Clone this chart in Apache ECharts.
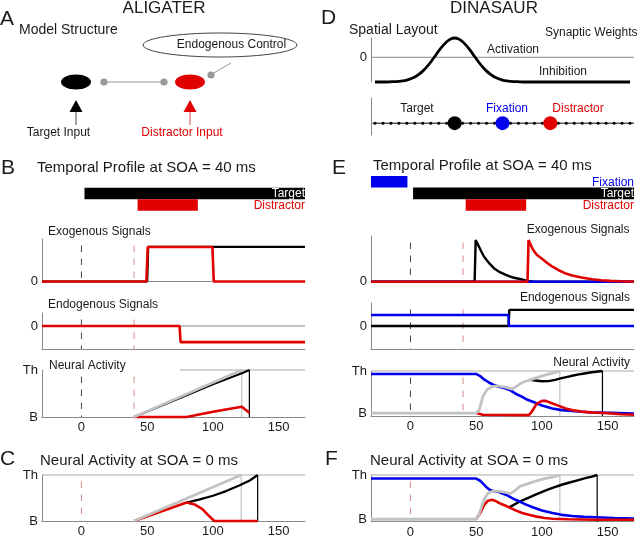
<!DOCTYPE html>
<html><head><meta charset="utf-8">
<script src="https://cdn.jsdelivr.net/npm/echarts@6/dist/echarts.min.js"></script>
<style>html,body{margin:0;padding:0;background:#fff}#c{width:640px;height:538px}</style>
</head><body><div id="c"></div>
<script>
// ================= DATA =================
const timeTicks = [0, 50, 100, 150];
const timeMin = -30, timeMax = 170;

// ---- Panel B (ALIGATER, SOA = 40 ms) ----
const profB_target = [2.3, 170];
const profB_distractor = [42.7, 88.5];
const exoB_target = [[-30,0],[50,0],[50.8,1],[170,1]];
const exoB_distractor = [[-30,0],[49.4,0],[50.4,1],[99.6,1],[100.6,0],[170,0]];
const endoB_distractor = [[-30,0],[74.6,0],[75.4,-0.7],[170,-0.7]];
const neuB_gray = [[40,0],[121.9,1]];
const neuB_black = [[40,0],[80,0.46],[100,0.695],[121.9,0.93],[127.7,1]];
const neuB_red = [[40,0],[80,0],[100,0.11],[121.9,0.22],[127.7,0.09]];
const neuB_crossGray = 121.9, neuB_crossBlack = 127.7;
const neuB_thStart = 75;
const onsetsB = [0, 40];

// ---- Panel C (ALIGATER, SOA = 0 ms) ----
const neuC_gray = [[40,0],[121.5,1]];
const neuC_black = [[80,0.40],[90,0.47],[100,0.55],[110,0.65],[120,0.77],[128,0.88],[134,1]];
const neuC_red = [[40,0],[80,0.40],[86,0.36],[92,0.26],[96,0.14],[101,0],[134,0]];
const neuC_crossGray = 121.5, neuC_crossBlack = 134;
const onsetC = 0;

// ---- Panel D (DINASAUR spatial layout) ----
const spatialPos = [0,1,2,3,3.5,4,4.5,5,5.5,6,6.5,7,7.5,8,8.5,9,9.5,10,10.5,11,11.5,12,12.5,13,13.5,14,14.5,15,15.5,16,16.5,17,18,19,20,21,22,23,24,25,26,27,28,29,30,31,32];
const spatialAct = [-1,-1,-0.99,-0.975,-0.955,-0.92,-0.87,-0.8,-0.69,-0.56,-0.39,-0.19,0.03,0.26,0.46,0.63,0.74,0.78,0.74,0.63,0.46,0.26,0.03,-0.19,-0.39,-0.56,-0.69,-0.8,-0.87,-0.92,-0.955,-0.975,-0.99,-1,-1,-1,-1,-1,-1,-1,-1,-1,-1,-1,-1,-1,-1];
const layoutDots = [0,1,2,3,4,5,6,7,8,9,10,11,12,13,14,15,16,17,18,19,20,21,22,23,24,25,26,27,28,29,30,31,32];
const layoutTarget = 10, layoutFixation = 16, layoutDistractor = 22;
const layoutLevel = 0.32;

// ---- Panel E (DINASAUR, SOA = 40 ms) ----
const profE_fixation = [-30, -2.3];
const profE_target = [2, 170];
const profE_distractor = [42, 88];
const exoE_blue = [[-30,0],[170,0]];
const exoE_black = [[-30,0],[48.8,0],[49.6,1],[52,0.85],[54,0.72],[56,0.6],[60,0.44],[64,0.31],[68,0.23],[73,0.16],[78,0.1],[84,0.06],[89,0.02],[95,0],[170,0]];
const exoE_red = [[-30,0],[89,0],[89.8,1],[93,0.78],[96,0.65],[100,0.55],[104,0.45],[108,0.36],[113,0.27],[118,0.2],[123,0.15],[130,0.1],[138,0.06],[145,0.035],[152,0.02],[160,0.01],[170,0]];
const endoE_blue = [[-30,0.48],[74.5,0.48],[74.9,0],[170,0]];
const endoE_black = [[-30,0],[74.6,0],[75.2,0.7],[170,0.7]];
const neuE_blue = [[-30,0.93],[50,0.93],[53,0.88],[56,0.8],[60,0.72],[64,0.66],[68,0.62],[72,0.59],[76,0.54],[80,0.46],[84,0.4],[88,0.33],[93,0.27],[100,0.18],[108,0.11],[115,0.07],[123,0.05],[135,0.02],[146,0.01],[170,-0.01]];
const neuE_gray = [[-30,0],[50,0],[52,0.06],[53,0.15],[55,0.39],[58,0.55],[62,0.63],[66,0.645],[70,0.63],[73,0.61],[77,0.57],[80,0.62],[83,0.69],[87,0.75],[91,0.79],[95,0.83],[100,0.88],[104,0.92],[108,0.95],[113.6,1]];
const neuE_black = [[91,0.79],[95,0.775],[100,0.755],[105,0.76],[110,0.79],[115,0.83],[122,0.88],[130,0.93],[138,0.97],[146,1]];
const neuE_red = [[50,0],[55,-0.04],[90,-0.05],[92,0.02],[96,0.22],[100,0.29],[103,0.29],[107,0.24],[113,0.17],[118,0.11],[123,0.07],[130,0.035],[140,0.01],[148,0],[160,-0.03],[170,-0.04]];
const neuE_crossGray = 113.6, neuE_crossBlack = 146;
const onsetsE = [0, 40];

// ---- Panel F (DINASAUR, SOA = 0 ms) ----
const neuF_blue = [[-30,0.92],[50,0.92],[53,0.87],[55,0.81],[58,0.72],[60,0.67],[63,0.64],[67,0.62],[70,0.58],[73,0.55],[76,0.5],[80,0.44],[83,0.4],[88,0.33],[93,0.27],[100,0.2],[108,0.14],[115,0.1],[123,0.075],[132,0.055],[141,0.045],[155,0.03],[170,0.015]];
const neuF_gray = [[-30,0],[50,0],[52,0.1],[55,0.36],[57,0.5],[59,0.59],[63,0.64],[68,0.63],[72,0.61],[76,0.58],[80,0.66],[83,0.74],[90,0.81],[96,0.87],[102,0.92],[108,0.95],[113.6,1]];
const neuF_black = [[75,0.27],[79,0.33],[83,0.4],[90,0.49],[96,0.57],[102,0.64],[108,0.71],[115,0.78],[121,0.83],[127,0.88],[133,0.93],[138,0.965],[142,1]];
const neuF_red = [[50,0],[53,0.14],[56,0.32],[59,0.42],[62,0.44],[65,0.41],[68,0.36],[72,0.31],[75,0.27],[80,0.2],[85,0.14],[90,0.1],[96,0.06],[102,0.03],[108,0.01],[120,0],[140,-0.01],[170,-0.01]];
const neuF_crossGray = 113.6, neuF_crossBlack = 142;
const onsetF = 0;

// ================= STYLE / LAYOUT =================
const FONT = "'Liberation Sans', Arial, Helvetica, sans-serif";
const RED = '#e00000', BLUE = '#0000ee', BLACK = '#000', GRAYC = '#c2c2c2', AXIS = '#8a8a8a', TXT = '#1a1a1a';
const DASH_K = '#444', DASH_R = '#d88a8a';

const grids = [
  {left:42,  top:187.7, width:263, height:23},    //0 bars B
  {left:42,  top:239,   width:263, height:42.5},  //1 exo B
  {left:42,  top:313,   width:263, height:36},    //2 endo B
  {left:42,  top:370,   width:263, height:47},    //3 neural B
  {left:42,  top:475,   width:263, height:46},    //4 neural C
  {left:371, top:38,    width:263, height:44},    //5 spatial D
  {left:371, top:98,    width:263, height:37},    //6 layout D
  {left:371, top:176,   width:263, height:34.7},  //7 bars E
  {left:371, top:236,   width:263, height:45.7},  //8 exo E
  {left:371, top:303,   width:263, height:46},    //9 endo E
  {left:371, top:371,   width:263, height:45},    //10 neural E
  {left:371, top:475,   width:263, height:46.7}   //11 neural F
].map(g => Object.assign({containLabel:false, outerBoundsMode:'none'}, g));

const thLabels = {values:[0,1], fmt: v => (v > 0.5 ? 'Th' : 'B')};
const zeroLabel = {values:[0], fmt: () => '0'};
// [ymin, ymax, showLeft, showBottom, yLabels, xLabels, xmin, xmax]
const axSpec = [
  [0, 2, false, false, null, false],
  [0, 1.23, true, true, zeroLabel, false],
  [-1, 0.565, true, true, zeroLabel, false],
  [0, 1, true, true, thLabels, true],
  [0, 1, true, true, thLabels, true],
  [-1, 0.78, true, false, zeroLabel, false, -0.5, 32.5],
  [0, 1, true, false, null, false, -0.5, 32.5],
  [0, 3, false, false, null, false],
  [0, 1.1, true, true, zeroLabel, false],
  [-1, 1, true, true, zeroLabel, false],
  [-0.07, 1, true, true, thLabels, true],
  [-0.055, 1, true, true, thLabels, true]
];
const xAxis = [], yAxis = [];
axSpec.forEach((s, i) => {
  xAxis.push({type:'value', gridIndex:i, min: s[6] !== undefined ? s[6] : timeMin, max: s[7] !== undefined ? s[7] : timeMax,
    axisLine:{show:s[3], onZero:false, lineStyle:{color:AXIS, width:1}}, axisTick:{show:false}, splitLine:{show:false},
    axisLabel: s[5] ? {show:true, customValues:timeTicks, margin:4, color:TXT, fontSize:13, fontFamily:FONT} : {show:false}});
  yAxis.push({type:'value', gridIndex:i, min:s[0], max:s[1],
    axisLine:{show:s[2], onZero:false, lineStyle:{color:AXIS, width:1}}, axisTick:{show:false}, splitLine:{show:false},
    axisLabel: s[4] ? {show:true, customValues:s[4].values, formatter:s[4].fmt, margin:4, color:TXT, fontSize:13, fontFamily:FONT} : {show:false}});
});

function ln(g, data, color, width, z, dashed, extra) {
  const o = {type:'line', xAxisIndex:g, yAxisIndex:g, data:data, symbol:'none', silent:true, clip:false, z:z||2,
    lineStyle:{color:color, width:width, cap:'butt'}, itemStyle:{color:color}, emphasis:{disabled:true}};
  if (dashed) { o.lineStyle.type = [6.5, 6.5]; o.lineStyle.dashOffset = 6.5; }
  return Object.assign(o, extra || {});
}
function vline(g, x, y0, y1, color, width, z, dashed) {
  return ln(g, [[x, y1], [x, y0]], color, width, z, dashed);
}
function bar(g, range, row, color, label, labelColor) {
  return {type:'custom', xAxisIndex:g, yAxisIndex:g, silent:true, z:3, encode:{x:[0,1], y:2},
    data:[[range[0], range[1], row]],
    renderItem: function (params, api) {
      const s = api.coord([api.value(0), api.value(2)]);
      const e = api.coord([api.value(1), api.value(2)]);
      const r = api.coord([timeMax, api.value(2)]);
      const h = api.size([0, 1])[1];
      return {type:'group', children:[
        {type:'rect', shape:{x:s[0], y:s[1]-h/2, width:e[0]-s[0], height:h}, style:{fill:color}},
        {type:'text', x:r[0], y:r[1]+0.5, style:{text:label, fill:labelColor, align:'right', verticalAlign:'middle', fontSize:12, fontFamily:FONT}}
      ]};
    }};
}

const series = [];
// ---- B bars
series.push(bar(0, profB_target, 1.5, BLACK, 'Target', '#fff'));
series.push(bar(0, profB_distractor, 0.5, RED, 'Distractor', RED));
// ---- B exo
onsetsB.forEach((t, k) => series.push(vline(1, t, 0, 1.23, k ? DASH_R : DASH_K, 1, 1, true)));
series.push(ln(1, exoB_target, BLACK, 2.2, 2));
series.push(ln(1, exoB_distractor, RED, 2.6, 3));
// ---- B endo
series.push(ln(2, [[timeMin,0],[timeMax,0]], AXIS, 1, 1));
onsetsB.forEach((t, k) => series.push(vline(2, t, -1, 0.565, k ? DASH_R : DASH_K, 1, 1, true)));
series.push(ln(2, endoB_distractor, RED, 2.6, 3));
// ---- B neural
series.push(ln(3, [[neuB_thStart,1],[timeMax,1]], '#aaa', 1, 1));
onsetsB.forEach((t, k) => series.push(vline(3, t, 0, 1, k ? DASH_R : DASH_K, 1, 1, true)));
series.push(vline(3, neuB_crossGray, 0, 1, GRAYC, 1.2, 2));
series.push(vline(3, neuB_crossBlack, 0, 1, BLACK, 1.2, 2));
series.push(ln(3, neuB_black, BLACK, 2, 3));
series.push(ln(3, neuB_red, RED, 2.6, 4));
series.push(ln(3, neuB_gray, GRAYC, 2.6, 5));
// ---- C neural
series.push(ln(4, [[timeMin,1],[timeMax,1]], '#aaa', 1, 1));
series.push(vline(4, onsetC, 0, 1, DASH_R, 1, 1, true));
series.push(vline(4, neuC_crossGray, 0, 1, GRAYC, 1.2, 2));
series.push(vline(4, neuC_crossBlack, 0, 1, BLACK, 1.2, 2));
series.push(ln(4, neuC_black, BLACK, 2.2, 3));
series.push(ln(4, neuC_red, RED, 2.6, 4));
series.push(ln(4, neuC_gray, GRAYC, 2.6, 5));
// ---- D spatial
series.push(ln(5, [[-0.5,0],[32.5,0]], AXIS, 1, 1));
series.push(ln(5, spatialPos.map((p, i) => [p, spatialAct[i]]), BLACK, 2.8, 3, false, {smooth:0.3}));
// ---- D layout
series.push(ln(6, [[-0.3, layoutLevel],[32.5, layoutLevel]], BLACK, 1, 2));
series.push({type:'scatter', xAxisIndex:6, yAxisIndex:6, silent:true, z:3, symbolSize:3, itemStyle:{color:BLACK, opacity:1},
  data: layoutDots.map(p => [p, layoutLevel])});
series.push({type:'scatter', xAxisIndex:6, yAxisIndex:6, silent:true, z:4, symbolSize:14,
  data:[{value:[layoutTarget, layoutLevel], itemStyle:{color:BLACK, opacity:1}},
        {value:[layoutFixation, layoutLevel], itemStyle:{color:BLUE, opacity:1}},
        {value:[layoutDistractor, layoutLevel], itemStyle:{color:RED, opacity:1}}]});
// ---- E bars
series.push(bar(7, profE_fixation, 2.5, BLUE, 'Fixation', BLUE));
series.push(bar(7, profE_target, 1.5, BLACK, 'Target', '#fff'));
series.push(bar(7, profE_distractor, 0.5, RED, 'Distractor', RED));
// ---- E exo
onsetsE.forEach((t, k) => series.push(vline(8, t, 0, 1.1, k ? DASH_R : DASH_K, 1, 1, true)));
series.push(ln(8, exoE_black, BLACK, 2.4, 2));
series.push(ln(8, exoE_blue, BLUE, 2.4, 3));
series.push(ln(8, exoE_red, RED, 2.6, 4));
// ---- E endo
series.push(ln(9, [[timeMin,0],[timeMax,0]], AXIS, 1, 1));
onsetsE.forEach((t, k) => series.push(vline(9, t, -1, 1, k ? DASH_R : DASH_K, 1, 1, true)));
series.push(ln(9, endoE_black, BLACK, 2.4, 3));
series.push(ln(9, endoE_blue, BLUE, 2.4, 4));
// ---- E neural
series.push(ln(10, [[timeMin,1],[timeMax,1]], '#aaa', 1, 1));
onsetsE.forEach((t, k) => series.push(vline(10, t, -0.07, 1, k ? DASH_R : DASH_K, 1, 1, true)));
series.push(vline(10, neuE_crossGray, -0.07, 1, GRAYC, 1.2, 2));
series.push(vline(10, neuE_crossBlack, -0.07, 1, BLACK, 1.2, 2));
series.push(ln(10, neuE_black, BLACK, 2.4, 3));
series.push(ln(10, neuE_blue, BLUE, 2.6, 4));
series.push(ln(10, neuE_red, RED, 2.6, 5));
series.push(ln(10, neuE_gray, GRAYC, 2.8, 6));
// ---- F neural
series.push(ln(11, [[timeMin,1],[timeMax,1]], '#aaa', 1, 1));
series.push(vline(11, onsetF, -0.055, 1, DASH_R, 1, 1, true));
series.push(vline(11, neuF_crossGray, -0.055, 1, GRAYC, 1.2, 2));
series.push(vline(11, neuF_crossBlack, -0.055, 1, BLACK, 1.2, 2));
series.push(ln(11, neuF_black, BLACK, 2.4, 3));
series.push(ln(11, neuF_blue, BLUE, 2.6, 4));
series.push(ln(11, neuF_red, RED, 2.6, 5));
series.push(ln(11, neuF_gray, GRAYC, 2.8, 6));

// ---- text + schematic
function T(text, x, y, size, opts) {
  opts = opts || {};
  return {type:'text', x:x, y:y, silent:true, z:100,
    style:{text:text, fill:opts.color || TXT, fontSize:size, fontFamily:FONT,
      align:opts.align || 'left', verticalAlign:'middle', textAlign:opts.align || 'left', textVerticalAlign:'middle'}};
}
const elements = [
  T('ALIGATER', 164, 8, 17, {align:'center'}),
  T('DINASAUR', 494, 8, 17, {align:'center'}),
  T('A', 0, 19, 21),
  T('D', 321, 18, 21),
  T('Model Structure', 19, 30.5, 14),
  T('Spatial Layout', 349, 30.5, 14),
  T('Synaptic Weights', 545, 32.5, 12),
  T('Activation', 487, 49.5, 12),
  T('Inhibition', 539, 71.5, 12),
  T('Target', 417, 109, 12, {align:'center'}),
  T('Fixation', 507, 109, 12, {align:'center', color:BLUE}),
  T('Distractor', 578, 109, 12, {align:'center', color:RED}),
  // schematic A
  {type:'ellipse', shape:{cx:220, cy:45, rx:77, ry:12}, style:{fill:'#fff', stroke:'#444', lineWidth:1}, z:50, silent:true},
  T('Endogenous Control', 231.5, 45, 12, {align:'center'}),
  {type:'line', shape:{x1:104, y1:82, x2:164, y2:82}, style:{stroke:'#999', lineWidth:1}, z:50, silent:true},
  {type:'line', shape:{x1:212, y1:74, x2:231, y2:63}, style:{stroke:'#999', lineWidth:1}, z:50, silent:true},
  {type:'circle', shape:{cx:104, cy:82, r:3.6}, style:{fill:'#999'}, z:51, silent:true},
  {type:'circle', shape:{cx:164, cy:82, r:3.6}, style:{fill:'#999'}, z:51, silent:true},
  {type:'circle', shape:{cx:211, cy:75, r:3.6}, style:{fill:'#999'}, z:51, silent:true},
  {type:'ellipse', shape:{cx:76, cy:82, rx:15, ry:7.5}, style:{fill:'#000'}, z:51, silent:true},
  {type:'ellipse', shape:{cx:190, cy:82, rx:15, ry:7.5}, style:{fill:RED}, z:51, silent:true},
  {type:'polygon', shape:{points:[[76,100],[69.5,112],[82.5,112]]}, style:{fill:'#000'}, z:51, silent:true},
  {type:'line', shape:{x1:76, y1:112, x2:76, y2:125}, style:{stroke:'#666', lineWidth:1.2}, z:50, silent:true},
  {type:'polygon', shape:{points:[[190,100],[183.5,112],[196.5,112]]}, style:{fill:RED}, z:51, silent:true},
  {type:'line', shape:{x1:190, y1:112, x2:190, y2:125}, style:{stroke:'#e06060', lineWidth:1.2}, z:50, silent:true},
  T('Target Input', 58.5, 133, 12, {align:'center'}),
  T('Distractor Input', 182, 133, 12, {align:'center', color:RED}),
  // B / C
  T('B', 1, 168, 21),
  T('Temporal Profile at SOA = 40 ms', 37, 168, 15),
  T('Exogenous Signals', 48, 231.5, 12),
  T('Endogenous Signals', 48, 305, 12),
  T('Neural Activity', 49, 365.5, 12),
  T('C', 0, 459, 21),
  T('Neural Activity at SOA = 0 ms', 40, 461, 15),
  // E / F
  T('E', 332, 168, 21),
  T('Temporal Profile at SOA = 40 ms', 373, 165.5, 15),
  T('Exogenous Signals', 629.5, 230, 12, {align:'right'}),
  T('Endogenous Signals', 630, 297.5, 12, {align:'right'}),
  T('Neural Activity', 630, 362.5, 12, {align:'right'}),
  T('F', 325, 459, 21),
  T('Neural Activity at SOA = 0 ms', 370, 461, 15)
];

const chart = echarts.init(document.getElementById('c'), null, {renderer:'canvas'});
chart.setOption({
  animation:false,
  backgroundColor:'#fff',
  textStyle:{fontFamily:FONT},
  grid:grids, xAxis:xAxis, yAxis:yAxis, series:series,
  graphic:{elements:elements}
});
</script></body></html>
